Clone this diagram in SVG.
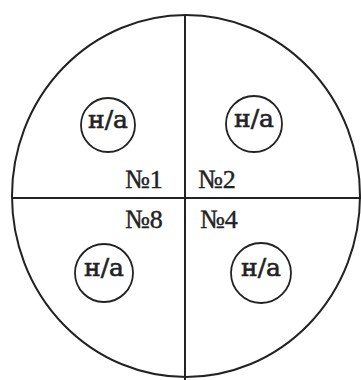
<svg xmlns="http://www.w3.org/2000/svg" width="361" height="380" viewBox="0 0 361 380">
<style>
.ln{stroke:#222;stroke-width:2;fill:none}
.sc{stroke:#222;stroke-width:1.8;fill:#fff}
.na{font-family:"DejaVu Serif","Liberation Serif",serif;font-size:25px;fill:#222;stroke:#222;stroke-width:0.6;text-anchor:middle}
.no{font-family:"Liberation Serif","DejaVu Serif",serif;font-size:26px;fill:#222;stroke:#222;stroke-width:0.4}
</style>
<rect width="361" height="380" fill="#fff"/>
<g id="outer">
<ellipse class="ln" cx="186" cy="196" rx="174" ry="181"/>
</g>
<g id="connectors">
<line class="ln" x1="185" y1="15" x2="185" y2="380"/>
<line class="ln" x1="12" y1="198" x2="361" y2="198"/>
</g>
<g id="na1"><circle class="sc" cx="108" cy="125" r="27"/><text class="na" x="108" y="128">н/а</text></g>
<g id="na2"><circle class="sc" cx="254" cy="124" r="28"/><text class="na" x="254" y="127">н/а</text></g>
<g id="na3"><circle class="sc" cx="104" cy="273" r="29"/><text class="na" x="104" y="276">н/а</text></g>
<g id="na4"><circle class="sc" cx="261" cy="273" r="30"/><text class="na" x="261" y="276">н/а</text></g>
<g id="labels">
<text class="no" x="125" y="188">№1</text>
<text class="no" x="198" y="188">№2</text>
<text class="no" x="125" y="228">№8</text>
<text class="no" x="200" y="228">№4</text>
</g>
</svg>
